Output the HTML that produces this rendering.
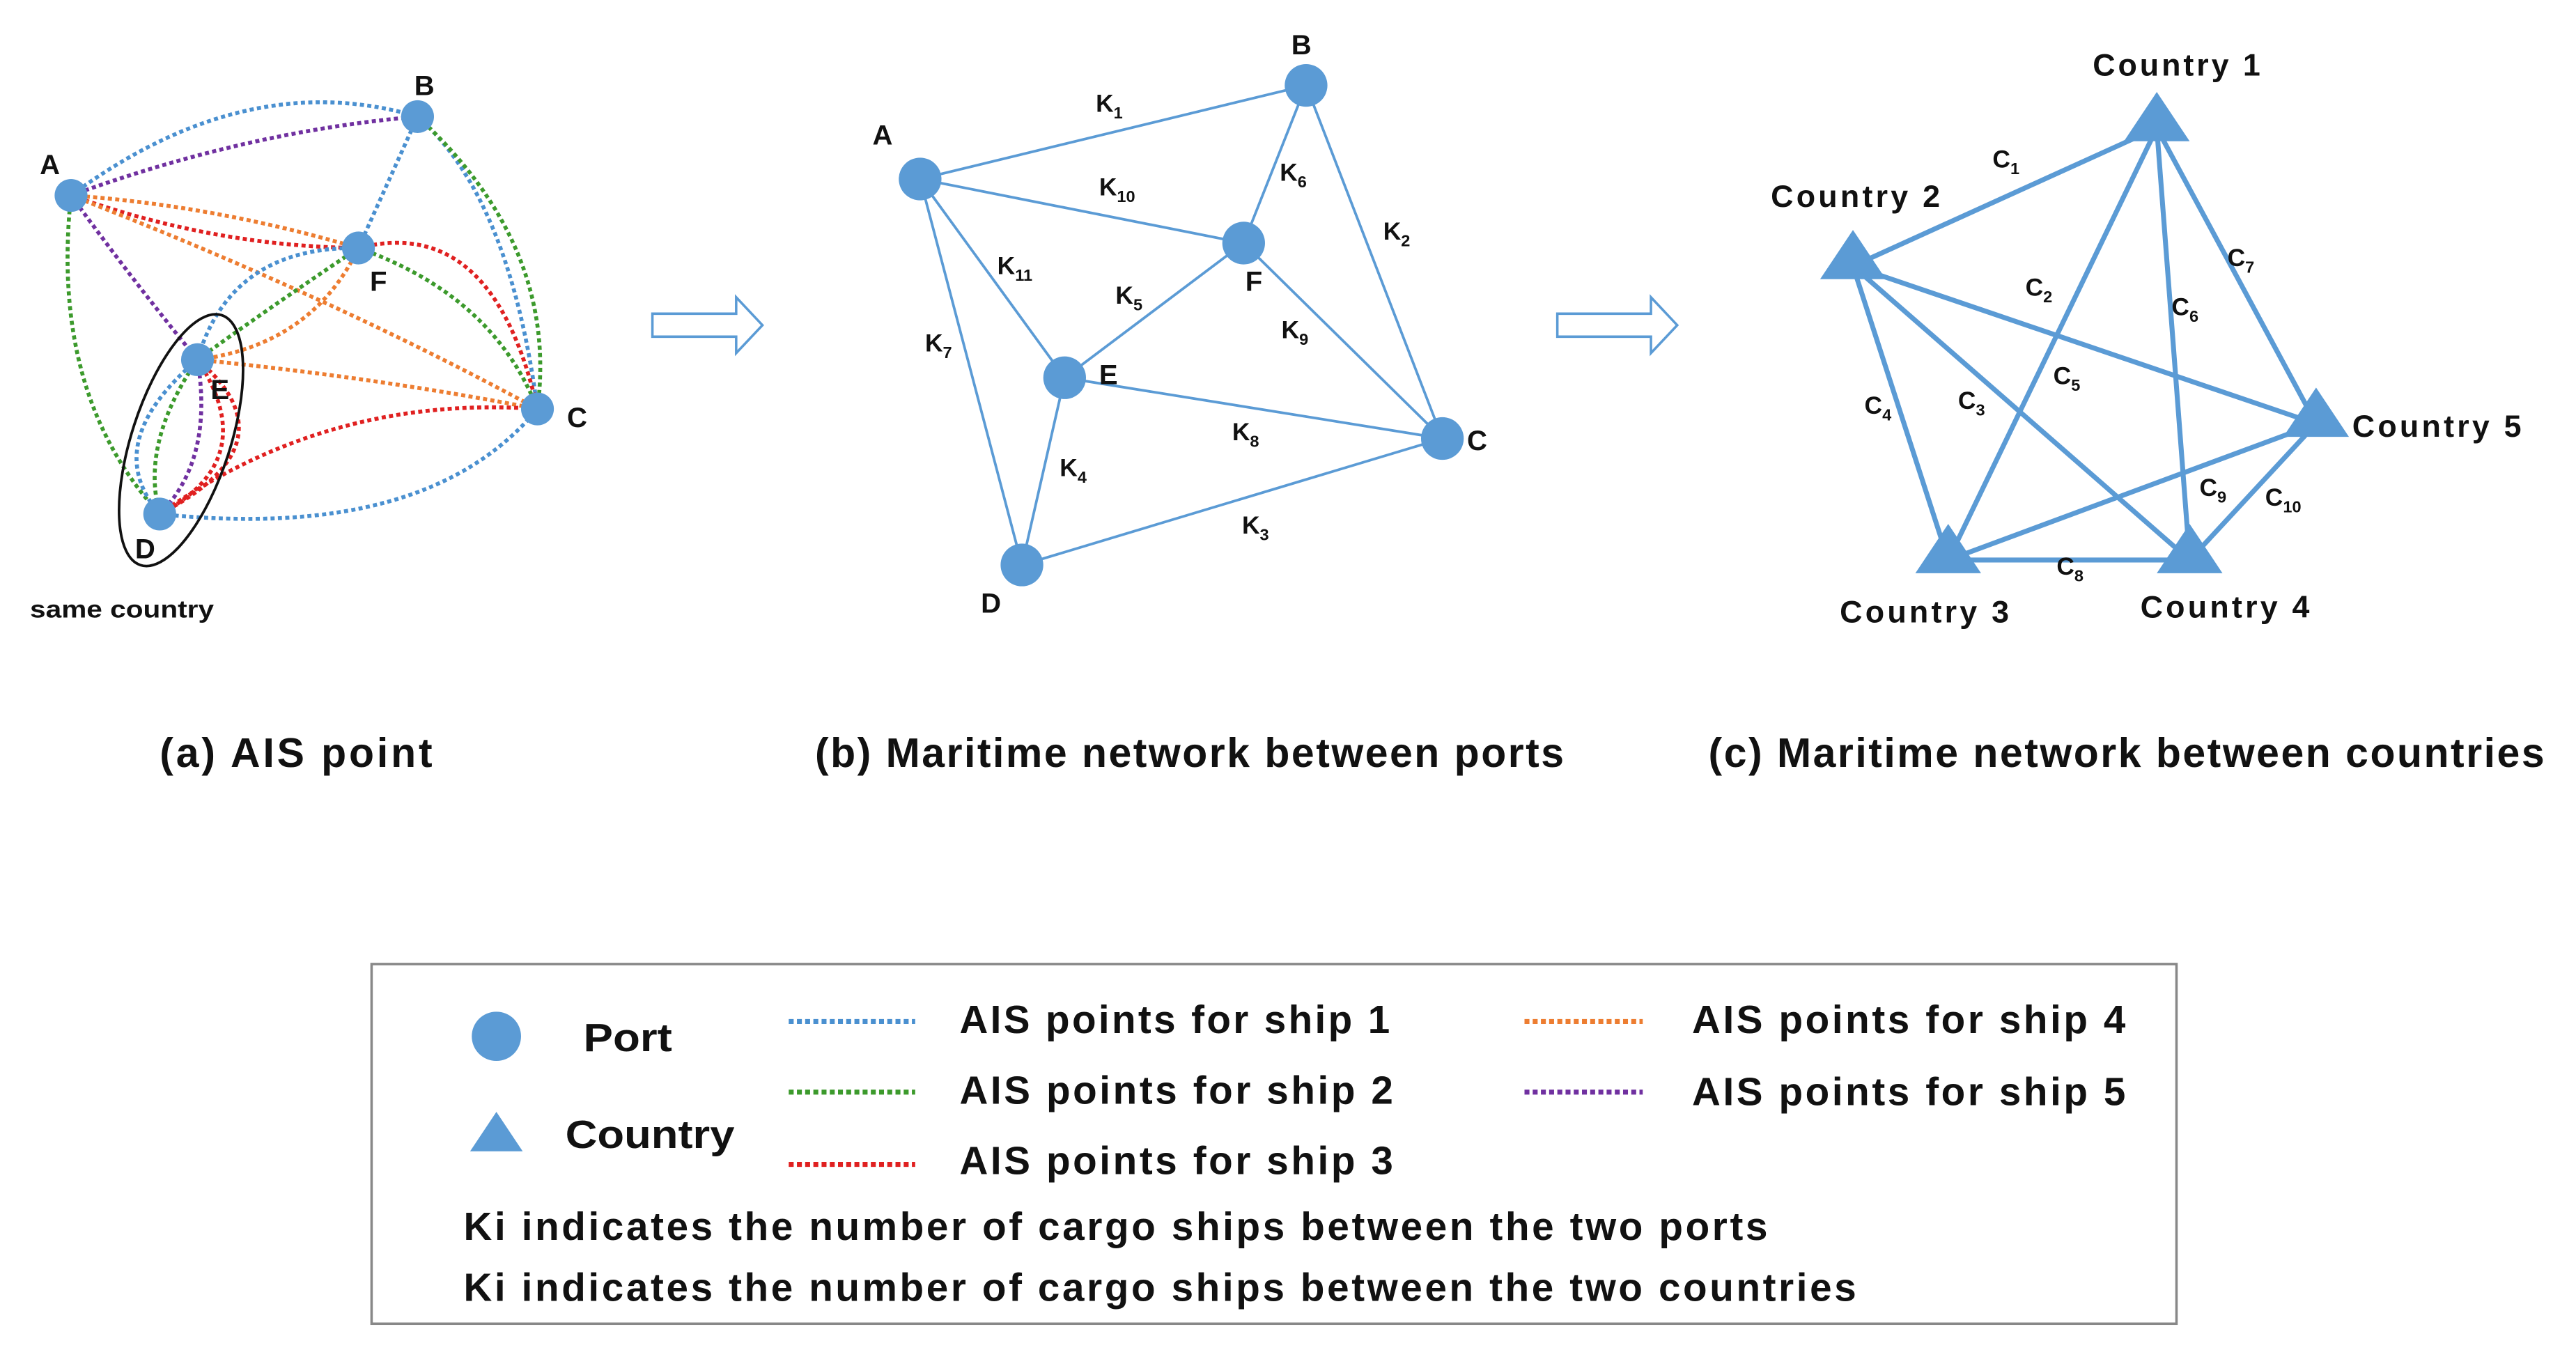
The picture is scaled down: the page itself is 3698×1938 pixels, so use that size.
<!DOCTYPE html>
<html><head><meta charset="utf-8"><style>
html,body{margin:0;padding:0;background:#fff}
svg{display:block}
text{font-family:"Liberation Sans",Arial,sans-serif;font-weight:bold;fill:#111}
</style></head><body>
<svg width="3698" height="1938" viewBox="0 0 1568 822" xmlns="http://www.w3.org/2000/svg">
<rect width="1568" height="822" fill="#fff"/>
<g fill="none" stroke-width="2.4" stroke-dasharray="2.5 2">
 <path d="M43,119 Q150,40 254,71" stroke="#4a90d0"/>
 <path d="M43,119 Q150,80 254,71" stroke="#7030a0"/>
 <path d="M43,119 Q130,125 218,151" stroke="#ed7d31"/>
 <path d="M43,119 Q130,150 218,151" stroke="#e02020"/>
 <path d="M43,119 Q80,170 120,219" stroke="#7030a0"/>
 <path d="M43,119 Q30,240 97,313" stroke="#3c9a2c"/>
 <path d="M43,119 Q200,180 327,249" stroke="#ed7d31"/>
 <path d="M254,71 L218,151" stroke="#4a90d0"/>
 <path d="M254,71 Q310,120 327,249" stroke="#4a90d0"/>
 <path d="M254,71 Q340,150 327,249" stroke="#3c9a2c"/>
 <path d="M218,151 Q300,130 327,249" stroke="#e02020"/>
 <path d="M218,151 Q300,180 327,249" stroke="#3c9a2c"/>
 <path d="M218,151 Q140,150 120,219" stroke="#4a90d0"/>
 <path d="M218,151 Q160,190 120,219" stroke="#3c9a2c"/>
 <path d="M218,151 Q190,210 120,219" stroke="#ed7d31"/>
 <path d="M120,219 Q230,230 327,249" stroke="#ed7d31"/>
 <path d="M97,313 Q200,240 327,249" stroke="#e02020"/>
 <path d="M97,313 Q260,330 327,249" stroke="#4a90d0"/>
 <path d="M120,219 Q60,270 97,313" stroke="#4a90d0"/>
 <path d="M120,219 Q85,270 97,313" stroke="#3c9a2c"/>
 <path d="M120,219 Q160,280 97,313" stroke="#e02020"/>
 <path d="M120,219 Q130,280 97,313" stroke="#7030a0"/>
 <path d="M120,219 Q180,270 97,313" stroke="#e02020"/>
</g>
<ellipse cx="110" cy="268" rx="30" ry="80" transform="rotate(18 110 268)" fill="none" stroke="#111" stroke-width="1.6"/>
<g fill="#5b9bd5">
 <circle cx="43" cy="119" r="10"/><circle cx="254" cy="71" r="10"/><circle cx="218" cy="151" r="10"/>
 <circle cx="120" cy="219" r="10"/><circle cx="327" cy="249" r="10"/><circle cx="97" cy="313" r="10"/>
</g>
<g font-size="17">
 <text x="24" y="106">A</text><text x="252" y="58">B</text><text x="225" y="177">F</text>
 <text x="128" y="243">E</text><text x="345" y="260">C</text><text x="82" y="340">D</text>
</g>
<text x="18" y="376" font-size="15" textLength="112" lengthAdjust="spacingAndGlyphs">same country</text>
<path d="M397,191 H448 V181 L464,198 L448,215 V205 H397 Z" fill="#fff" stroke="#5b9bd5" stroke-width="1.5"/>
<path d="M948,191 H1005 V181 L1021,198 L1005,215 V205 H948 Z" fill="#fff" stroke="#5b9bd5" stroke-width="1.5"/>
<g stroke="#5b9bd5" stroke-width="1.6">
 <line x1="560" y1="109" x2="795" y2="52"/><line x1="560" y1="109" x2="757" y2="148"/>
 <line x1="560" y1="109" x2="648" y2="230"/><line x1="560" y1="109" x2="622" y2="344"/>
 <line x1="795" y1="52" x2="757" y2="148"/><line x1="795" y1="52" x2="878" y2="267"/>
 <line x1="757" y1="148" x2="648" y2="230"/><line x1="757" y1="148" x2="878" y2="267"/>
 <line x1="648" y1="230" x2="878" y2="267"/><line x1="648" y1="230" x2="622" y2="344"/>
 <line x1="622" y1="344" x2="878" y2="267"/>
</g>
<g fill="#5b9bd5">
 <circle cx="560" cy="109" r="13"/><circle cx="795" cy="52" r="13"/><circle cx="757" cy="148" r="13"/>
 <circle cx="648" cy="230" r="13"/><circle cx="878" cy="267" r="13"/><circle cx="622" cy="344" r="13"/>
</g>
<g font-size="17">
 <text x="531" y="88">A</text><text x="786" y="33">B</text><text x="758" y="177">F</text>
 <text x="669" y="234">E</text><text x="893" y="274">C</text><text x="597" y="373">D</text>
</g>
<g font-size="15">
 <text x="667" y="68">K<tspan font-size="10" dy="4">1</tspan></text>
 <text x="669" y="119">K<tspan font-size="10" dy="4">10</tspan></text>
 <text x="779" y="110">K<tspan font-size="10" dy="4">6</tspan></text>
 <text x="842" y="146">K<tspan font-size="10" dy="4">2</tspan></text>
 <text x="607" y="167">K<tspan font-size="10" dy="4">11</tspan></text>
 <text x="679" y="185">K<tspan font-size="10" dy="4">5</tspan></text>
 <text x="780" y="206">K<tspan font-size="10" dy="4">9</tspan></text>
 <text x="563" y="214">K<tspan font-size="10" dy="4">7</tspan></text>
 <text x="750" y="268">K<tspan font-size="10" dy="4">8</tspan></text>
 <text x="645" y="290">K<tspan font-size="10" dy="4">4</tspan></text>
 <text x="756" y="325">K<tspan font-size="10" dy="4">3</tspan></text>
</g>
<g stroke="#5b9bd5" stroke-width="3">
 <line x1="1313" y1="78" x2="1128" y2="162"/><line x1="1313" y1="78" x2="1410" y2="258"/>
 <line x1="1313" y1="78" x2="1186" y2="341"/><line x1="1313" y1="78" x2="1333" y2="341"/>
 <line x1="1128" y1="162" x2="1410" y2="258"/><line x1="1128" y1="162" x2="1186" y2="341"/>
 <line x1="1128" y1="162" x2="1333" y2="341"/><line x1="1410" y1="258" x2="1186" y2="341"/>
 <line x1="1410" y1="258" x2="1333" y2="341"/><line x1="1186" y1="341" x2="1333" y2="341"/>
</g>
<g fill="#5b9bd5">
 <path d="M1313,56 L1333,86 L1293,86 Z"/><path d="M1128,140 L1148,170 L1108,170 Z"/>
 <path d="M1410,236 L1430,266 L1390,266 Z"/><path d="M1186,319 L1206,349 L1166,349 Z"/>
 <path d="M1333,319 L1353,349 L1313,349 Z"/>
</g>
<g font-size="19" lengthAdjust="spacingAndGlyphs">
 <text x="1274" y="46" textLength="102">Country 1</text><text x="1078" y="126" textLength="103">Country 2</text>
 <text x="1432" y="266" textLength="103">Country 5</text><text x="1120" y="379" textLength="103">Country 3</text>
 <text x="1303" y="376" textLength="103">Country 4</text>
</g>
<g font-size="15">
 <text x="1213" y="102">C<tspan font-size="10" dy="4">1</tspan></text>
 <text x="1356" y="162">C<tspan font-size="10" dy="4">7</tspan></text>
 <text x="1233" y="180">C<tspan font-size="10" dy="4">2</tspan></text>
 <text x="1322" y="192">C<tspan font-size="10" dy="4">6</tspan></text>
 <text x="1250" y="234">C<tspan font-size="10" dy="4">5</tspan></text>
 <text x="1135" y="252">C<tspan font-size="10" dy="4">4</tspan></text>
 <text x="1192" y="249">C<tspan font-size="10" dy="4">3</tspan></text>
 <text x="1339" y="302">C<tspan font-size="10" dy="4">9</tspan></text>
 <text x="1379" y="308">C<tspan font-size="10" dy="4">10</tspan></text>
 <text x="1252" y="350">C<tspan font-size="10" dy="4">8</tspan></text>
</g>
<g font-size="25" lengthAdjust="spacingAndGlyphs">
 <text x="97" y="467" textLength="166">(a)  AIS point</text>
 <text x="496" y="467" textLength="456">(b) Maritime network between ports</text>
 <text x="1040" y="467" textLength="509">(c) Maritime network between countries</text>
</g>
<rect x="226" y="587" width="1099" height="219" fill="#fff" stroke="#888" stroke-width="1.5"/>
<circle cx="302" cy="631" r="15" fill="#5b9bd5"/>
<text x="355" y="640" font-size="24" textLength="54" lengthAdjust="spacingAndGlyphs">Port</text>
<path d="M302,677 L318,701 L286,701 Z" fill="#5b9bd5"/>
<text x="344" y="699" font-size="24" textLength="103" lengthAdjust="spacingAndGlyphs">Country</text>
<g stroke-width="3" stroke-dasharray="3 2">
 <line x1="480" y1="622" x2="557" y2="622" stroke="#4a90d0"/>
 <line x1="480" y1="665" x2="557" y2="665" stroke="#3c9a2c"/>
 <line x1="480" y1="709" x2="557" y2="709" stroke="#e02020"/>
 <line x1="928" y1="622" x2="1000" y2="622" stroke="#ed7d31"/>
 <line x1="928" y1="665" x2="1000" y2="665" stroke="#7030a0"/>
</g>
<g font-size="24" lengthAdjust="spacingAndGlyphs">
 <text x="584" y="629" textLength="262">AIS points for ship 1</text>
 <text x="584" y="672" textLength="264">AIS points for ship 2</text>
 <text x="584" y="715" textLength="264">AIS points for ship 3</text>
 <text x="1030" y="629" textLength="264">AIS points for ship 4</text>
 <text x="1030" y="673" textLength="264">AIS points for ship 5</text>
 <text x="282" y="755" textLength="794">Ki indicates the number of cargo ships between the two ports</text>
 <text x="282" y="792" textLength="848">Ki indicates the number of cargo ships between the two countries</text>
</g>
</svg>
</body></html>
